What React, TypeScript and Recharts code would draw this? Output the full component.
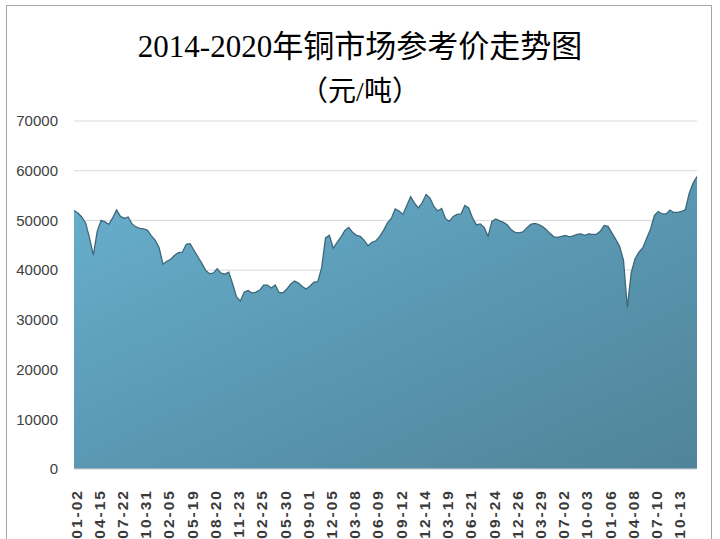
import { AreaChart, Area, XAxis, YAxis, CartesianGrid } from "recharts";

// copper reference price, yuan/ton, roughly sampled along 2014-2020
const prices = [
  52000, 51500, 50700, 49500, 46500, 43000, 47800, 50000, 49700, 49200,
  50500, 52100, 50800, 50400, 50700, 49300, 48700, 48400, 48300, 48000,
  46900, 46000, 44500, 41200, 41800, 42200, 43000, 43500, 43600, 45200,
  45300, 44000, 42700, 41400, 40000, 39300, 39400, 40300, 39400, 39200,
  39600, 37200, 34600, 33800, 35600, 35900, 35400, 35600, 36000, 37000,
  37000, 36400, 37000, 35500, 35400, 36200, 37200, 37800, 37400, 36700,
  36200, 36800, 37600, 37700, 40500, 46500, 47000, 44400, 45600, 46700,
  48000, 48600, 47600, 47000, 46800, 46000, 44900, 45600, 45900, 46800,
  48000, 49500, 50400, 52300, 51900, 51200, 53000, 54800, 53500, 52500,
  53600, 55200, 54500, 52800, 51900, 52400, 50400, 49800, 50800, 51200,
  51300, 53000, 52500, 50500, 49100, 49300, 48600, 46800, 49800, 50300,
  49900, 49600, 49100, 48100, 47600, 47500, 47700, 48500, 49200, 49400,
  49200, 48800, 48200, 47400, 46700, 46600, 46800, 47000, 46700, 46900,
  47200, 47300, 47000, 47300, 47200, 47200, 47800, 49000, 48800, 47500,
  46200, 44800, 42000, 32500, 39500, 42300, 43600, 44500, 46400, 48300,
  51000, 51800, 51300, 51300, 52100, 51600, 51600, 51800, 52200, 55500,
  57500, 58800,
];

const tickLabels = [
  "01-02", "04-15", "07-22", "10-31", "02-05", "05-19", "08-20", "11-23",
  "02-25", "05-30", "09-01", "12-05", "03-08", "06-09", "09-12", "12-14",
  "03-19", "06-21", "09-24", "12-26", "03-29", "07-02", "10-03", "01-06",
  "04-08", "07-10", "10-13",
];
const LABEL_STEP = 6; // one tick label every 6 samples

const yTicks = [0, 10000, 20000, 30000, 40000, 50000, 60000, 70000];

const data = prices.map((price, i) => ({ idx: i, price }));
const xTicks = tickLabels.map((_, k) => k * LABEL_STEP);

const DateTick = (props: any) => {
  const { x, y, payload } = props;
  const label = tickLabels[Math.round(payload.value / LABEL_STEP)] ?? "";
  return (
    <g transform={`translate(${x + 2},${y})`}>
      <text
        transform="rotate(-90)"
        textAnchor="end"
        dy="0.36em"
        fill="#3a3a3a"
        fontSize={15.5}
        fontWeight="bold"
        letterSpacing={2}
        fontFamily="'Liberation Sans', Arial, sans-serif"
      >
        {label}
      </text>
    </g>
  );
};

export default function App() {
  return (
    <div
      style={{
        position: "absolute",
        left: 0,
        top: 0,
        width: 720,
        height: 539,
        overflow: "hidden",
        background: "#fff",
      }}
    >
      {/* outer frame */}
      <div
        style={{
          position: "absolute",
          left: 6,
          top: 5,
          width: 704,
          height: 600,
          border: "1px solid #a6a6a6",
        }}
      />
      <div
        style={{
          position: "absolute",
          left: 0,
          top: 27,
          width: 720,
          textAlign: "center",
          fontSize: 31,
          lineHeight: "40px",
          color: "#000",
          fontFamily: "'Liberation Serif', 'Noto Sans CJK SC', serif",
        }}
      >
        2014-2020年铜市场参考价走势图
      </div>
      <div
        style={{
          position: "absolute",
          left: 0,
          top: 73,
          width: 720,
          textAlign: "center",
          fontSize: 28,
          lineHeight: "38px",
          color: "#000",
          fontFamily: "'Liberation Serif', 'Noto Sans CJK SC', serif",
        }}
      >
        （元/吨）
      </div>
      <div style={{ position: "absolute", left: 0, top: 0 }}>
        <AreaChart
          width={720}
          height={539}
          data={data}
          margin={{ top: 121, right: 23, bottom: 10, left: 14 }}
        >
          <defs>
            <linearGradient id="copperFill" x1="0" y1="0" x2="1" y2="1">
              <stop offset="0%" stopColor="#68B0CE" />
              <stop offset="55%" stopColor="#5996B0" />
              <stop offset="100%" stopColor="#508498" />
            </linearGradient>
          </defs>
          <CartesianGrid
            vertical={false}
            stroke="#d9d9d9"
            strokeWidth={1}
          />
          <XAxis
            dataKey="idx"
            type="number"
            domain={[0, prices.length - 1]}
            ticks={xTicks}
            interval={0}
            height={60}
            tick={<DateTick />}
            tickLine={false}
            tickMargin={14}
            axisLine={{ stroke: "#d9d9d9" }}
          />
          <YAxis
            width={60}
            domain={[0, 70000]}
            ticks={yTicks}
            interval={0}
            tickLine={false}
            axisLine={false}
            tickMargin={10}
            tick={{
              fill: "#404040",
              fontSize: 15,
              fontFamily: "'Liberation Sans', Arial, sans-serif",
            }}
          />
          <Area
            type="linear"
            dataKey="price"
            stroke="#3D687C"
            strokeWidth={1.3}
            fill="url(#copperFill)"
            fillOpacity={1}
            isAnimationActive={false}
          />
        </AreaChart>
      </div>
    </div>
  );
}
